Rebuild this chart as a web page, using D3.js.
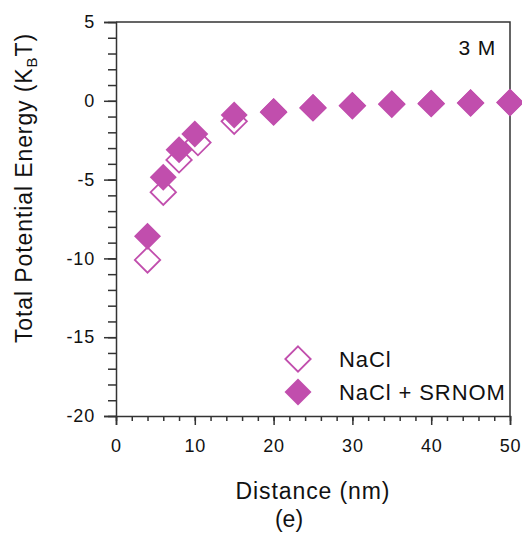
<!DOCTYPE html>
<html>
<head>
<meta charset="utf-8">
<script src="https://cdn.jsdelivr.net/npm/d3@7"></script>
<style>
  body { margin: 0; background: #fff; }
  text { font-family: "Liberation Sans", Arial, sans-serif; fill: #111; }
</style>
</head>
<body>
<div id="chart"></div>
<script>
// distances (nm) and energies (kBT)
const distNaCl = [4, 6, 8, 10.4, 15, 20, 25, 30, 35, 40, 45, 50];
const energyNaCl = [-10.1, -5.8, -3.75, -2.65, -1.3, -0.72, -0.45, -0.32, -0.22, -0.18, -0.14, -0.11];
const distSrnom = [4, 6, 8, 10, 15, 20, 25, 30, 35, 40, 45, 50];
const energySrnom = [-8.6, -4.85, -3.1, -2.1, -0.9, -0.68, -0.42, -0.3, -0.19, -0.16, -0.12, -0.1];
const xTicks = [0, 10, 20, 30, 40, 50];
const yTicks = [5, 0, -5, -10, -15, -20];
const seriesNames = ["NaCl", "NaCl + SRNOM"];

const width = 522, height = 535,
    margin = {left: 116, right: 12, top: 22, bottom: 119},
    color = "#c14ead";

const svg = d3.select("#chart").append("svg")
    .attr("width", width)
    .attr("height", height);

const x = d3.scaleLinear().domain([0, 50]).range([margin.left, width - margin.right]);
const y = d3.scaleLinear().domain([-20, 5]).range([height - margin.bottom, margin.top]);

// minor ticks
svg.append("g")
    .attr("transform", "translate(0," + y(-20) + ")")
    .call(d3.axisBottom(x).tickValues(d3.range(0, 51, 2)).tickSize(5).tickFormat(""))
    .call(g => g.select(".domain").remove());
svg.append("g")
    .attr("transform", "translate(" + x(0) + ",0)")
    .call(d3.axisLeft(y).tickValues(d3.range(-20, 6, 1)).tickSize(8).tickFormat(""))
    .call(g => g.select(".domain").remove());

// major ticks
const xAxis = svg.append("g")
    .attr("transform", "translate(0," + y(-20) + ")")
    .call(d3.axisBottom(x).tickValues(xTicks).tickSize(9).tickPadding(14).tickFormat(d => String(d)));
const yAxis = svg.append("g")
    .attr("transform", "translate(" + x(0) + ",0)")
    .call(d3.axisLeft(y).tickValues(yTicks).tickSize(12).tickPadding(9).tickFormat(d => String(d)));

svg.selectAll(".tick line").attr("stroke", "#333").attr("stroke-width", 1.5);
svg.selectAll(".domain").attr("stroke", "#333").attr("stroke-width", 1.5);
svg.selectAll(".tick text").style("font-size", "18px").style("letter-spacing", "0.8px").attr("fill", "#111");

// frame top and right
svg.append("path")
    .attr("d", "M" + x(0) + "," + y(5) + "H" + x(50) + "V" + y(-20))
    .attr("fill", "none")
    .attr("stroke", "#333")
    .attr("stroke-width", 1.5);

const diamond = d3.symbol().type(d3.symbolSquare);
const half = 13.5;
function diamondPath(h) {
    return "M0," + (-h) + "L" + h + ",0L0," + h + "L" + (-h) + ",0Z";
}

// NaCl (open)
svg.append("g").selectAll("path")
    .data(distNaCl.map((d, i) => [d, energyNaCl[i]]))
    .enter().append("path")
    .attr("transform", d => "translate(" + x(d[0]) + "," + y(d[1]) + ")")
    .attr("d", diamondPath(half - 0.8))
    .attr("fill", "#fff")
    .attr("stroke", color)
    .attr("stroke-width", 1.8);

// NaCl + SRNOM (filled)
svg.append("g").selectAll("path")
    .data(distSrnom.map((d, i) => [d, energySrnom[i]]))
    .enter().append("path")
    .attr("transform", d => "translate(" + x(d[0]) + "," + y(d[1]) + ")")
    .attr("d", diamondPath(half))
    .attr("fill", color);

// legend
const legend = svg.append("g").attr("transform", "translate(298,359)");
legend.append("path")
    .attr("d", diamondPath(half - 0.8))
    .attr("fill", "#fff").attr("stroke", color).attr("stroke-width", 1.8);
legend.append("path")
    .attr("transform", "translate(0,33)")
    .attr("d", diamondPath(half))
    .attr("fill", color);
legend.selectAll("text")
    .data(seriesNames)
    .enter().append("text")
    .attr("x", 41)
    .attr("y", (d, i) => 8 + i * 33)
    .style("font-size", "22px")
    .style("letter-spacing", "0.9px")
    .text(d => d);

// annotation
svg.append("text")
    .attr("x", 496).attr("y", 55)
    .attr("text-anchor", "end")
    .style("font-size", "21px")
    .style("letter-spacing", "0.8px")
    .text("3 M");

// axis titles
svg.append("text")
    .attr("x", 313).attr("y", 499)
    .attr("text-anchor", "middle")
    .style("font-size", "23px")
    .style("letter-spacing", "0.9px")
    .text("Distance (nm)");
svg.append("text")
    .attr("x", 289).attr("y", 527)
    .attr("text-anchor", "middle")
    .style("font-size", "23px")
    .text("(e)");

const yTitle = svg.append("text")
    .attr("transform", "translate(32,188) rotate(-90)")
    .attr("text-anchor", "middle")
    .style("font-size", "23px")
    .style("letter-spacing", "0.9px");
yTitle.append("tspan").text("Total Potential Energy (K");
yTitle.append("tspan").attr("dy", 5).style("font-size", "15px").text("B");
yTitle.append("tspan").attr("dy", -5).text("T)");
</script>
</body>
</html>
